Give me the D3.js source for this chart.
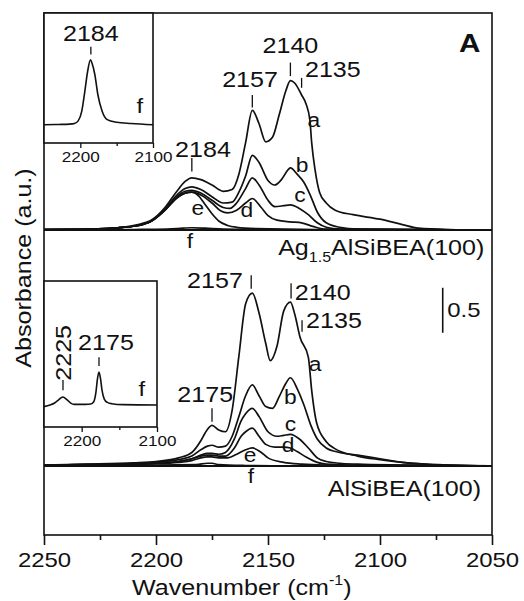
<!DOCTYPE html>
<html>
<head>
<meta charset="utf-8">
<script src="https://cdn.jsdelivr.net/npm/d3@7"></script>
<style>
  body { margin: 0; background: #fff; }
  svg text { font-family: "Liberation Sans", Arial, sans-serif; fill: #111; }
</style>
</head>
<body>
<svg id="chart" width="524" height="601"></svg>
<script>
// ---- data ----

// axis ticks
const wnTicks = [2250, 2200, 2150, 2100, 2050];
const wnMinor = [2225, 2175, 2125, 2075];
const insetTicks = [2200, 2100];
const insetMinor = [2150];

const curveNames = ['a', 'b', 'c', 'd', 'e', 'f'];
const sampleNames = ['Ag1.5AlSiBEA(100)', 'AlSiBEA(100)'];

// Ag1.5AlSiBEA(100): [wavenumber, absorbance above baseline]
const agA = [[2250,0.005],[2230,0.01],[2215,0.03],[2208,0.06],[2202,0.11],[2196,0.25],[2191,0.42],[2187,0.54],[2184,0.58],[2180,0.56],[2175,0.5],[2170,0.43],[2166,0.45],[2163,0.62],[2160,0.97],[2157,1.33],[2154,1.18],[2151,0.98],[2148,1.03],[2145,1.28],[2142,1.55],[2140,1.66],[2138,1.63],[2135,1.5],[2133,1.4],[2131.3,1.22],[2130.5,0.97],[2129,0.67],[2127,0.42],[2124,0.3],[2120,0.22],[2112,0.17],[2100,0.12],[2090,0.06],[2083,0.02],[2070,0.005],[2050,0]];
const agB = [[2250,0.005],[2230,0.01],[2215,0.03],[2208,0.05],[2202,0.1],[2196,0.23],[2191,0.38],[2187,0.46],[2184,0.48],[2180,0.45],[2175,0.37],[2170,0.3],[2166,0.31],[2163,0.42],[2160,0.6],[2157,0.83],[2154,0.75],[2150,0.55],[2147,0.5],[2144,0.56],[2141,0.67],[2140,0.69],[2137,0.62],[2134,0.53],[2131,0.38],[2128,0.2],[2124,0.08],[2118,0.03],[2110,0.01],[2050,0]];
const agC = [[2250,0.005],[2230,0.01],[2215,0.03],[2208,0.05],[2202,0.1],[2196,0.22],[2191,0.36],[2187,0.43],[2184,0.44],[2180,0.41],[2175,0.33],[2170,0.25],[2167,0.24],[2164,0.3],[2160,0.46],[2157,0.58],[2154,0.5],[2150,0.33],[2147,0.26],[2143,0.27],[2140,0.28],[2136,0.24],[2132,0.17],[2128,0.08],[2124,0.03],[2118,0.01],[2050,0]];
const agD = [[2250,0.005],[2230,0.01],[2215,0.03],[2208,0.05],[2202,0.1],[2196,0.22],[2191,0.35],[2187,0.41],[2184,0.42],[2180,0.39],[2175,0.3],[2171,0.21],[2168,0.19],[2164,0.22],[2160,0.3],[2157,0.35],[2153,0.25],[2150,0.16],[2146,0.11],[2140,0.09],[2135,0.08],[2130,0.04],[2125,0.01],[2050,0]];
const agE = [[2250,0.005],[2230,0.01],[2215,0.03],[2208,0.05],[2202,0.1],[2196,0.22],[2191,0.35],[2187,0.41],[2184,0.42],[2181,0.38],[2178,0.28],[2175,0.18],[2172,0.1],[2168,0.05],[2164,0.03],[2155,0.015],[2130,0.005],[2050,0]];
const agF = [[2250,0],[2210,0.005],[2195,0.01],[2188,0.02],[2184,0.025],[2178,0.02],[2170,0.01],[2150,0.005],[2100,0],[2050,0]];

// AlSiBEA(100)
const alA = [[2250,0.01],[2230,0.02],[2210,0.035],[2200,0.05],[2190,0.09],[2184,0.15],[2180,0.28],[2178,0.37],[2175,0.45],[2172,0.4],[2169,0.38],[2166,0.62],[2163,1.22],[2160,1.8],[2157,1.92],[2154,1.7],[2151,1.36],[2149,1.17],[2146,1.33],[2143,1.72],[2140,1.82],[2138,1.68],[2135.7,1.43],[2132,1.21],[2130.5,0.84],[2128.3,0.48],[2124,0.27],[2120,0.19],[2110,0.11],[2100,0.07],[2090,0.04],[2080,0.02],[2070,0.01],[2050,0]];
const alB = [[2250,0.01],[2230,0.015],[2210,0.025],[2200,0.04],[2190,0.07],[2184,0.11],[2180,0.18],[2177,0.22],[2175,0.23],[2172,0.21],[2169,0.22],[2166,0.33],[2163,0.55],[2160,0.78],[2157,0.9],[2154,0.78],[2151,0.66],[2148,0.64],[2145,0.77],[2142,0.92],[2140,0.98],[2137,0.86],[2134,0.68],[2131,0.46],[2128,0.3],[2124,0.2],[2118,0.15],[2110,0.12],[2100,0.08],[2090,0.04],[2080,0.02],[2070,0.01],[2050,0]];
const alC = [[2250,0.01],[2230,0.015],[2210,0.02],[2200,0.03],[2190,0.05],[2184,0.08],[2180,0.12],[2177,0.14],[2175,0.14],[2172,0.13],[2169,0.15],[2165,0.3],[2162,0.5],[2160,0.58],[2157,0.64],[2154,0.55],[2150,0.38],[2146,0.33],[2143,0.34],[2140,0.35],[2136,0.3],[2132,0.2],[2128,0.09],[2124,0.05],[2118,0.03],[2110,0.02],[2090,0.01],[2050,0]];
const alD = [[2250,0.01],[2230,0.015],[2210,0.02],[2200,0.03],[2190,0.05],[2184,0.08],[2180,0.11],[2177,0.12],[2175,0.12],[2172,0.11],[2169,0.11],[2165,0.2],[2162,0.33],[2160,0.38],[2157,0.42],[2154,0.33],[2151,0.24],[2147,0.21],[2143,0.21],[2140,0.2],[2137,0.16],[2133,0.1],[2128,0.04],[2124,0.02],[2115,0.01],[2050,0]];
const alE = [[2250,0.01],[2230,0.015],[2210,0.02],[2200,0.025],[2190,0.04],[2184,0.06],[2180,0.09],[2177,0.1],[2175,0.1],[2172,0.09],[2168,0.09],[2164,0.13],[2160,0.18],[2157,0.2],[2153,0.15],[2150,0.09],[2143,0.04],[2135,0.02],[2125,0.01],[2050,0]];
const alF = [[2250,0.01],[2200,0.01],[2182,0.015],[2177,0.03],[2175,0.03],[2172,0.015],[2160,0.005],[2140,0],[2050,0]];

// insets: spectrum f, normalised to its main peak
const agInset = [[2250,0],[2230,0.005],[2215,0.01],[2208,0.02],[2203,0.06],[2198,0.21],[2194,0.5],[2190,0.82],[2186,1.0],[2184,0.95],[2180,0.77],[2176,0.47],[2170,0.21],[2163,0.08],[2150,0.04],[2130,0.02],[2100,0]];
const alInset = [[2250,-0.05],[2242,0],[2236,0.06],[2231,0.15],[2225,0.24],[2219,0.15],[2214,0.05],[2210,0.02],[2195,0.02],[2188,0.03],[2184,0.1],[2181,0.4],[2179,0.8],[2177,1.0],[2175,0.8],[2173,0.45],[2170,0.18],[2166,0.08],[2160,0.04],[2145,0.01],[2100,0]];

const agPeaks = [2184, 2157, 2140, 2135];
const alPeaks = [2175, 2157, 2140, 2135];
const agInsetPeaks = [2184];
const alInsetPeaks = [2225, 2175];
const scaleBar = 0.5;

// ---- layout ----
const width = 524, height = 601;
const margin = {top: 13, right: 32, bottom: 66, left: 44};
const svg = d3.select('#chart');

// x-range
const x = d3.scaleLinear()
    .domain([2250, 2050])
    .range([margin.left, width - margin.right]);

// y-range (stacked absorbance, 0 = lower baseline)
const y = d3.scaleLinear()
    .domain([-0.767, 5.033])
    .range([height - margin.bottom, margin.top]);

const panels = [
    {name: sampleNames[0], offset: 2.622, curves: [agA, agB, agC, agD, agE, agF], peaks: agPeaks,
     marks: [[2184, 0.65, 0.8, 2179, 0.81, 'middle'], [2157, 1.36, 1.5, 2158, 1.59, 'middle'],
             [2140, 1.71, 1.86, 2140, 1.97, 'middle'], [2135, 1.58, 1.69, 2133.5, 1.70, 'start']],
     letters: [[2129.5, 1.14], [2134.8, 0.64], [2135.7, 0.31], [2159.4, 0.14], [2181.3, 0.17], [2184.8, -0.2]],
     namePos: [2053.4, -0.28]},
    {name: sampleNames[1], offset: 0, curves: [alA, alB, alC, alD, alE, alF], peaks: alPeaks,
     marks: [[2175, 0.49, 0.64, 2178, 0.71, 'middle'], [2157.5, 1.97, 2.12, 2161.2, 1.98, 'end'],
             [2139.7, 1.86, 2.03, 2138, 1.84, 'start'], [2134.8, 1.49, 1.62, 2133, 1.53, 'start']],
     letters: [[2129, 1.06], [2140, 0.69], [2140, 0.39], [2141, 0.16], [2158, 0.04], [2157.6, -0.19]],
     namePos: [2054.9, -0.33]}
];

// frame
svg.append('rect')
    .attr('x', margin.left).attr('y', margin.top)
    .attr('width', width - margin.left - margin.right)
    .attr('height', height - margin.top - margin.bottom)
    .attr('fill', 'none').attr('stroke', '#111').attr('stroke-width', 1.6);

panels.forEach(p => {
    const py = a => y(p.offset + a);
    const g = svg.append('g');

    // baseline
    g.append('line')
        .attr('x1', margin.left).attr('x2', width - margin.right)
        .attr('y1', py(0)).attr('y2', py(0))
        .attr('stroke', '#111').attr('stroke-width', 2);

    const line = d3.line()
        .x(d => x(d[0]))
        .y(d => py(d[1]))
        .curve(d3.curveMonotoneX);

    g.selectAll('path.spec')
        .data(p.curves)
        .join('path')
        .attr('class', 'spec')
        .attr('fill', 'none')
        .attr('stroke', '#111')
        .attr('stroke-width', 1.7)
        .attr('stroke-linejoin', 'round')
        .attr('d', line);

    // peak positions
    p.marks.forEach((m, i) => {
        g.append('line')
            .attr('x1', x(m[0])).attr('x2', x(m[0]))
            .attr('y1', py(m[1])).attr('y2', py(m[2]))
            .attr('stroke', '#111').attr('stroke-width', 1.3);
        g.append('text')
            .attr('x', x(m[3])).attr('y', py(m[4]))
            .attr('text-anchor', m[5])
            .attr('font-size', 22)
            .text(p.peaks[i]);
    });

    // curve letters
    g.selectAll('text.letter')
        .data(p.letters)
        .join('text')
        .attr('class', 'letter')
        .attr('x', d => x(d[0])).attr('y', d => py(d[1]))
        .attr('text-anchor', 'middle')
        .attr('font-size', 20)
        .text((d, i) => curveNames[i]);

    // sample name
    const t = g.append('text')
        .attr('x', x(p.namePos[0])).attr('y', py(p.namePos[1]))
        .attr('text-anchor', 'end')
        .attr('font-size', 22);
    if (p.name.startsWith('Ag1.5')) {
        t.append('tspan').text('Ag');
        t.append('tspan').attr('font-size', 14).attr('dy', 7).text('1.5');
        t.append('tspan').attr('dy', -7).text(p.name.slice(5));
    } else {
        t.text(p.name);
    }
});

// panel letter
svg.append('text')
    .attr('x', x(2064.7)).attr('y', y(2.622 + 1.98))
    .attr('font-size', 26).attr('font-weight', 'bold')
    .text('A');

// scale bar
svg.append('line')
    .attr('x1', x(2072)).attr('x2', x(2072))
    .attr('y1', y(1.48)).attr('y2', y(1.48 + scaleBar))
    .attr('stroke', '#111').attr('stroke-width', 1.6);
svg.append('text')
    .attr('x', x(2070)).attr('y', y(1.66))
    .attr('font-size', 21)
    .text(scaleBar);

// insets
const insets = [
    {box: [44, 13, 109, 130], yd: [-0.28, 1.72], data: agInset, peaks: agInsetPeaks,
     marks: [[2185.5, 1.08, 1.2, 2185.5, 1.29, 0]], f: [2118, 0.18]},
    {box: [44, 281, 113, 146], yd: [-0.667, 3.758], data: alInset, peaks: alInsetPeaks,
     marks: [[2224.8, 0.45, 0.76, 2224.8, 1.58, 1], [2177, 1.18, 1.45, 2167.7, 1.67, 0]], f: [2120, 0.27]}
];

insets.forEach(ins => {
    const [bx, by, bw, bh] = ins.box;
    const xi = d3.scaleLinear().domain([2250, 2100]).range([bx, bx + bw]);
    const yi = d3.scaleLinear().domain(ins.yd).range([by + bh, by]);
    const g = svg.append('g');

    g.append('rect')
        .attr('x', bx).attr('y', by).attr('width', bw).attr('height', bh)
        .attr('fill', '#fff').attr('stroke', '#111').attr('stroke-width', 1.6);

    g.append('path')
        .datum(ins.data)
        .attr('fill', 'none').attr('stroke', '#111').attr('stroke-width', 1.6)
        .attr('d', d3.line().x(d => xi(d[0])).y(d => yi(d[1])).curve(d3.curveMonotoneX));

    ins.marks.forEach((m, i) => {
        g.append('line')
            .attr('x1', xi(m[0])).attr('x2', xi(m[0]))
            .attr('y1', yi(m[1])).attr('y2', yi(m[2]))
            .attr('stroke', '#111').attr('stroke-width', 1.3);
        const t = g.append('text')
            .attr('font-size', 22)
            .text(ins.peaks[i]);
        if (m[5]) {
            t.attr('text-anchor', 'middle').attr('dy', '0.36em')
                .attr('transform', `translate(${xi(m[3])},${yi(m[4])}) rotate(-90)`);
        } else {
            t.attr('text-anchor', 'middle').attr('x', xi(m[3])).attr('y', yi(m[4]));
        }
    });

    g.append('text')
        .attr('x', xi(ins.f[0])).attr('y', yi(ins.f[1]))
        .attr('text-anchor', 'middle').attr('font-size', 21)
        .text('f');

    // inset x-axis
    const ax = g.append('g')
        .attr('transform', `translate(0, ${by + bh})`)
        .call(d3.axisBottom(xi).tickValues(insetTicks).tickSize(5).tickSizeOuter(0).tickPadding(3)
            .tickFormat(d3.format('d')));
    ax.select('.domain').remove();
    ax.selectAll('line').attr('stroke', '#111').attr('stroke-width', 1.3);
    ax.selectAll('text').attr('font-size', 15).attr('fill', '#111');
    g.append('g')
        .attr('transform', `translate(0, ${by + bh})`)
        .call(d3.axisBottom(xi).tickValues(insetMinor).tickSize(3).tickFormat(''))
        .call(s => s.select('.domain').remove())
        .selectAll('line').attr('stroke', '#111').attr('stroke-width', 1.3);
});

// x-axis
const xAxis = svg.append('g')
    .attr('transform', `translate(0, ${height - margin.bottom})`)
    .call(d3.axisBottom(x).tickValues(wnTicks).tickSize(10).tickSizeOuter(0).tickPadding(7)
        .tickFormat(d3.format('d')));
xAxis.select('.domain').remove();
xAxis.selectAll('line').attr('stroke', '#111').attr('stroke-width', 1.6);
xAxis.selectAll('text').attr('font-size', 21).attr('fill', '#111');

svg.append('g')
    .attr('transform', `translate(0, ${height - margin.bottom})`)
    .call(d3.axisBottom(x).tickValues(wnMinor).tickSize(5).tickFormat(''))
    .call(s => s.select('.domain').remove())
    .selectAll('line').attr('stroke', '#111').attr('stroke-width', 1.6);

// axis titles
const xt = svg.append('text')
    .attr('x', 132).attr('y', 595)
    .attr('font-size', 22);
xt.append('tspan').text('Wavenumber (cm');
xt.append('tspan').attr('font-size', 14).attr('dy', -10).text('-1');
xt.append('tspan').attr('dy', 10).text(')');

svg.append('text')
    .attr('transform', 'translate(31, 268) rotate(-90)')
    .attr('text-anchor', 'middle')
    .attr('font-size', 22)
    .text('Absorbance (a.u.)');

// the original lettering is a bit wider than Arial, stretch it
svg.selectAll('text').each(function() {
    const spans = d3.select(this).selectAll('tspan');
    const nodes = spans.empty() ? [this] : spans.nodes();
    nodes.forEach(n => {
        const len = n.getComputedTextLength();
        if (len > 0) d3.select(n).attr('textLength', len * 1.14).attr('lengthAdjust', 'spacingAndGlyphs');
    });
});
</script>
</body>
</html>
